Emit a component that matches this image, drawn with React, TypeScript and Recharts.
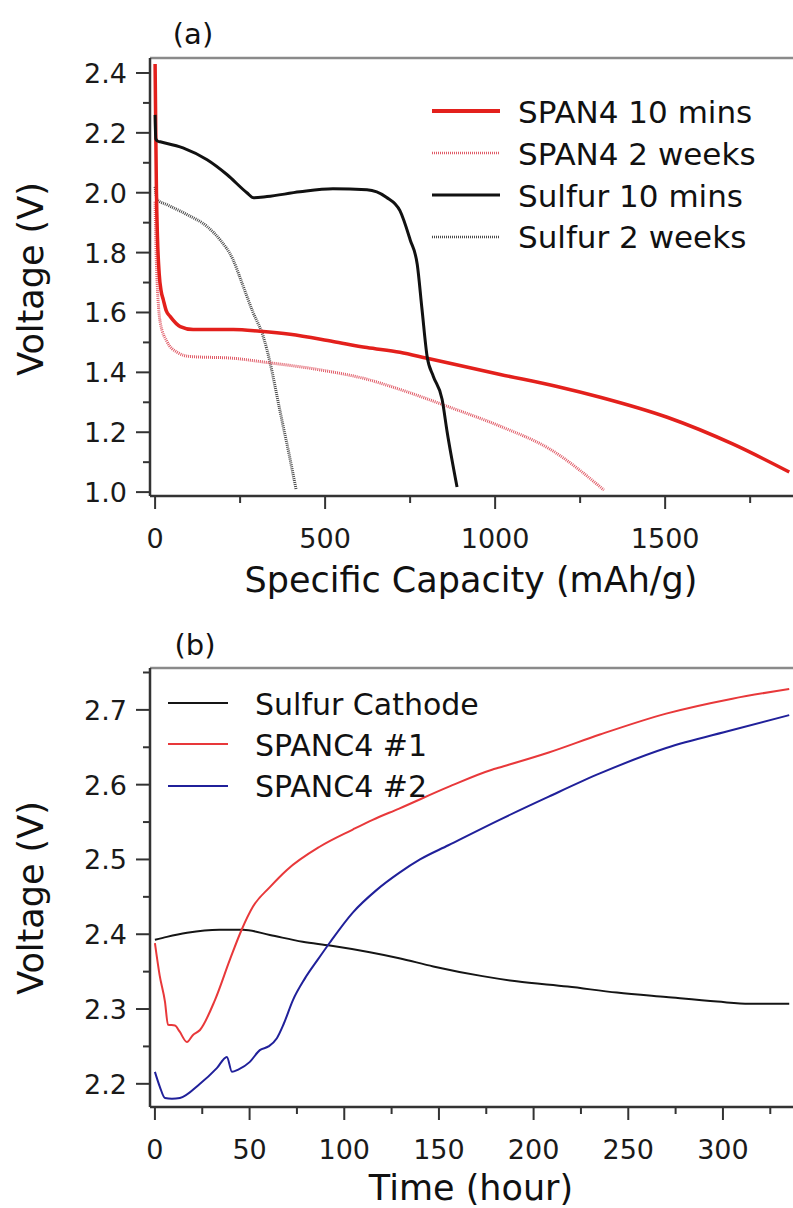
import React from 'react';
import { LineChart, Line, XAxis, YAxis, ReferenceLine } from 'recharts';

// (a) discharge curves: [specific capacity mAh/g, voltage V]
const span4Fresh: [number, number][] = [
  [0, 2.43], [2, 2.2], [4, 2.0], [7, 1.85], [12, 1.73], [18, 1.67], [24, 1.643], [33, 1.605],
  [44, 1.587], [74, 1.553], [112, 1.543], [230, 1.543], [309, 1.537], [397, 1.527], [523, 1.503],
  [623, 1.483], [720, 1.467], [800, 1.447], [1015, 1.393], [1182, 1.353], [1309, 1.317],
  [1506, 1.25], [1700, 1.16], [1865, 1.067],
];
const span4Aged: [number, number][] = [
  [0, 1.97], [3, 1.8], [6, 1.7], [10, 1.62], [15, 1.567], [35, 1.503], [65, 1.467], [103, 1.453],
  [230, 1.447], [329, 1.433], [476, 1.41], [623, 1.377], [720, 1.343], [868, 1.283], [1015, 1.22],
  [1162, 1.143], [1320, 1.007],
];
const sulfurFresh: [number, number][] = [
  [0, 2.26], [2, 2.18], [8, 2.172], [15, 2.17], [82, 2.15], [153, 2.11], [212, 2.06], [270, 2.0],
  [290, 1.983], [329, 1.987], [426, 2.003], [523, 2.013], [623, 2.01], [680, 1.985], [720, 1.94],
  [750, 1.843], [771, 1.76], [785, 1.61], [800, 1.453], [818, 1.387], [844, 1.31], [859, 1.2],
  [888, 1.017],
];
const sulfurAged: [number, number][] = [
  [0, 2.02], [6, 1.977], [35, 1.96], [94, 1.927], [153, 1.887], [191, 1.843], [229, 1.777],
  [255, 1.7], [288, 1.6], [318, 1.52], [338, 1.433], [368, 1.267], [397, 1.11], [415, 1.007],
];

// (b) open-circuit voltage vs time: [hour, voltage V]
const sulfurCathode: [number, number][] = [
  [0, 2.3925], [6.3, 2.3965], [17, 2.402], [34, 2.406], [46.5, 2.406], [60.7, 2.399], [78, 2.39],
  [92.4, 2.385], [113.5, 2.376], [129, 2.368], [147, 2.357], [173, 2.344], [191, 2.337],
  [218, 2.33], [244, 2.322], [270, 2.316], [297, 2.31], [314, 2.307], [335, 2.307],
];
const spanc4One: [number, number][] = [
  [0, 2.388], [2.5, 2.345], [5.3, 2.31], [6.9, 2.279], [10.6, 2.278], [13, 2.27], [16.9, 2.256],
  [20, 2.265], [23.8, 2.272], [31.7, 2.312], [39.6, 2.366], [45.8, 2.406], [51.8, 2.437],
  [60.7, 2.463], [69.7, 2.486], [87, 2.517], [104.5, 2.54], [115, 2.553], [129, 2.568],
  [155, 2.597], [178, 2.62], [182, 2.623], [208, 2.643], [235, 2.667], [270, 2.695],
  [305, 2.715], [335, 2.728],
];
const spanc4Two: [number, number][] = [
  [0, 2.216], [2.6, 2.196], [5.3, 2.181], [9, 2.18], [13.2, 2.181], [23.8, 2.2], [32.7, 2.221],
  [38, 2.236], [40.7, 2.216], [44, 2.219], [50, 2.229], [55.4, 2.245], [60, 2.25], [64.4, 2.261],
  [68, 2.28], [72.9, 2.312], [79, 2.34], [86, 2.366], [92.4, 2.389], [104.5, 2.429], [117, 2.459],
  [129, 2.482], [140, 2.5], [155, 2.519], [182, 2.553], [208, 2.584], [235, 2.615], [270, 2.649],
  [305, 2.673], [335, 2.693],
];

// axis ticks
const capTicks = [0, 250, 500, 750, 1000, 1250, 1500, 1750];
const capLabels = [0, 500, 1000, 1500];
const capVoltTicks = [1.0, 1.1, 1.2, 1.3, 1.4, 1.5, 1.6, 1.7, 1.8, 1.9, 2.0, 2.1, 2.2, 2.3, 2.4];
const capVoltLabels = [1.0, 1.2, 1.4, 1.6, 1.8, 2.0, 2.2, 2.4];
const timeTicks = [0, 25, 50, 75, 100, 125, 150, 175, 200, 225, 250, 275, 300, 325];
const timeLabels = [0, 50, 100, 150, 200, 250, 300];
const timeVoltTicks = [2.2, 2.25, 2.3, 2.35, 2.4, 2.45, 2.5, 2.55, 2.6, 2.65, 2.7, 2.75];
const timeVoltLabels = [2.2, 2.3, 2.4, 2.5, 2.6, 2.7];

const capDomain = [-15, 1876];
const capVoltDomain = [0.987, 2.45];
const timeDomain = [-2.6, 337];
const timeVoltDomain = [2.169, 2.756];

const FONT = '"DejaVu Sans", sans-serif';
const AXIS = '#333';

const pts = (arr: [number, number][]) => arr.map(([x, v]) => ({ x, v }));

const makeXTick = (labels: number[]) => (props: any) => {
  const { x, y, payload } = props;
  const major = labels.includes(payload.value);
  return (
    <g>
      <line x1={x} y1={y} x2={x} y2={y + (major ? 13 : 7)} stroke={AXIS} strokeWidth={2} />
      {major && (
        <text x={x} y={y + 52} textAnchor="middle" fontSize={27} fontFamily={FONT} fill="#1a1a1a">
          {payload.value}
        </text>
      )}
    </g>
  );
};

const makeYTick = (labels: number[]) => (props: any) => {
  const { x, y, payload } = props;
  const major = labels.includes(payload.value);
  return (
    <g>
      <line x1={x} y1={y} x2={x - (major ? 14 : 7)} y2={y} stroke={AXIS} strokeWidth={2} />
      {major && (
        <text x={x - 23} y={y + 10} textAnchor="end" fontSize={27} fontFamily={FONT} fill="#1a1a1a">
          {Number(payload.value).toFixed(1)}
        </text>
      )}
    </g>
  );
};

const App: React.FC = () => {
  return (
    <div style={{ position: 'absolute', left: 0, top: 0, width: 793, height: 1208, background: '#fff' }}>
      {/* (a) */}
      <div style={{ position: 'absolute', left: 0, top: 0 }}>
        <LineChart width={793} height={600} margin={{ top: 58, right: 0, left: 0, bottom: 0 }}>
          <XAxis
            type="number"
            dataKey="x"
            domain={capDomain}
            allowDataOverflow
            ticks={capTicks}
            interval={0}
            height={104}
            tickSize={0}
            tickMargin={0}
            tickLine={false}
            axisLine={{ stroke: AXIS, strokeWidth: 2.5 }}
            tick={makeXTick(capLabels)}
          />
          <YAxis
            type="number"
            domain={capVoltDomain}
            allowDataOverflow
            ticks={capVoltTicks}
            interval={0}
            width={150}
            tickSize={0}
            tickMargin={0}
            tickLine={false}
            axisLine={{ stroke: AXIS, strokeWidth: 2.5 }}
            tick={makeYTick(capVoltLabels)}
          />
          <ReferenceLine y={capVoltDomain[1]} stroke="#8a8a8a" strokeWidth={2.5} />
          <Line data={pts(sulfurAged)} dataKey="v" type="monotone" stroke="#4a4a4a" strokeWidth={3} strokeDasharray="1 1" dot={false} isAnimationActive={false} />
          <Line data={pts(span4Aged)} dataKey="v" type="monotone" stroke="#e05a66" strokeWidth={3} strokeDasharray="1 1" dot={false} isAnimationActive={false} />
          <Line data={pts(span4Fresh)} dataKey="v" type="monotone" stroke="#e3201c" strokeWidth={3.5} dot={false} isAnimationActive={false} />
          <Line data={pts(sulfurFresh)} dataKey="v" type="monotone" stroke="#111" strokeWidth={3} dot={false} isAnimationActive={false} />
        </LineChart>
      </div>

      {/* (b) */}
      <div style={{ position: 'absolute', left: 0, top: 610 }}>
        <LineChart width={793} height={598} margin={{ top: 58, right: 0, left: 0, bottom: 0 }}>
          <XAxis
            type="number"
            dataKey="x"
            domain={timeDomain}
            allowDataOverflow
            ticks={timeTicks}
            interval={0}
            height={101}
            tickSize={0}
            tickMargin={0}
            tickLine={false}
            axisLine={{ stroke: AXIS, strokeWidth: 2.5 }}
            tick={makeXTick(timeLabels)}
          />
          <YAxis
            type="number"
            domain={timeVoltDomain}
            allowDataOverflow
            ticks={timeVoltTicks}
            interval={0}
            width={150}
            tickSize={0}
            tickMargin={0}
            tickLine={false}
            axisLine={{ stroke: AXIS, strokeWidth: 2.5 }}
            tick={makeYTick(timeVoltLabels)}
          />
          <ReferenceLine y={timeVoltDomain[1]} stroke="#8a8a8a" strokeWidth={2.5} />
          <Line data={pts(sulfurCathode)} dataKey="v" type="monotone" stroke="#151515" strokeWidth={2} dot={false} isAnimationActive={false} />
          <Line data={pts(spanc4One)} dataKey="v" type="monotone" stroke="#e8383a" strokeWidth={2} dot={false} isAnimationActive={false} />
          <Line data={pts(spanc4Two)} dataKey="v" type="monotone" stroke="#20209a" strokeWidth={2} dot={false} isAnimationActive={false} />
        </LineChart>
      </div>

      {/* titles, axis labels and legends */}
      <svg width={793} height={1208} style={{ position: 'absolute', left: 0, top: 0, pointerEvents: 'none' }} fontFamily={FONT} fill="#111">
        <text x={193} y={44} fontSize={29} textAnchor="middle">(a)</text>
        <text x={195} y={655} fontSize={29} textAnchor="middle">(b)</text>

        <text x={471} y={592} fontSize={35} textAnchor="middle">Specific Capacity (mAh/g)</text>
        <text x={471} y={1200} fontSize={35} textAnchor="middle">Time (hour)</text>
        <text transform="translate(43,279) rotate(-90)" fontSize={35} textAnchor="middle">Voltage (V)</text>
        <text transform="translate(43,898) rotate(-90)" fontSize={35} textAnchor="middle">Voltage (V)</text>

        {/* legend (a) */}
        <line x1={432} y1={111} x2={500} y2={111} stroke="#e3201c" strokeWidth={4} />
        <line x1={432} y1={153} x2={500} y2={153} stroke="#e05a66" strokeWidth={2.5} strokeDasharray="1 1" />
        <line x1={432} y1={195} x2={500} y2={195} stroke="#111" strokeWidth={3} />
        <line x1={432} y1={237} x2={500} y2={237} stroke="#4a4a4a" strokeWidth={2.5} strokeDasharray="1 1" />
        <text x={518} y={123} fontSize={31}>SPAN4 10 mins</text>
        <text x={518} y={165} fontSize={31}>SPAN4 2 weeks</text>
        <text x={518} y={207} fontSize={31}>Sulfur 10 mins</text>
        <text x={518} y={248} fontSize={31}>Sulfur 2 weeks</text>

        {/* legend (b) */}
        <line x1={168} y1={703} x2={228} y2={703} stroke="#151515" strokeWidth={2} />
        <line x1={168} y1={744} x2={228} y2={744} stroke="#e8383a" strokeWidth={2} />
        <line x1={168} y1={786} x2={228} y2={786} stroke="#20209a" strokeWidth={2} />
        <text x={255} y={715} fontSize={30}>Sulfur Cathode</text>
        <text x={255} y={756} fontSize={30}>SPANC4 #1</text>
        <text x={255} y={797} fontSize={30}>SPANC4 #2</text>
      </svg>
    </div>
  );
};

export default App;
